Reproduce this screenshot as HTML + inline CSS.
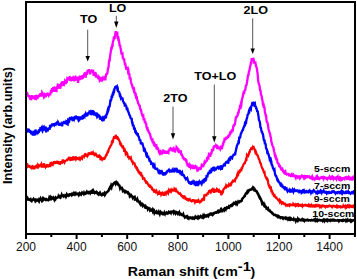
<!DOCTYPE html>
<html><head><meta charset="utf-8"><style>
html,body{margin:0;padding:0;background:#fff;width:357px;height:279px;overflow:hidden}
svg{display:block}
text{font-family:"Liberation Sans",sans-serif}
.tk{font-size:12px;fill:#111}
.an{font-size:10.2px;font-weight:bold;fill:#000}
.lg{font-size:9px;font-weight:bold;fill:#000}
.ax{font-size:12px;font-weight:bold;fill:#000}
</style></head><body>
<svg width="357" height="279" viewBox="0 0 357 279">
<polyline fill="none" stroke="#000000" stroke-width="2.5" stroke-linejoin="miter" stroke-miterlimit="3" points="27.0,200.6 27.0,199.8 27.3,199.7 27.7,198.6 28.1,199.5 28.5,199.5 28.9,199.7 29.3,199.5 29.7,199.8 30.1,199.6 30.5,199.2 30.9,200.4 31.3,200.4 31.7,200.9 32.1,200.0 32.5,199.8 32.9,199.7 33.3,199.2 33.7,200.6 34.1,199.5 34.5,199.5 34.9,200.0 35.3,201.0 35.7,200.3 36.1,199.6 36.5,199.8 36.9,200.5 37.3,200.1 37.7,199.8 38.1,200.0 38.5,200.6 38.9,201.2 39.3,199.4 39.7,199.7 40.1,199.6 40.5,198.6 40.9,199.4 41.3,199.3 41.7,200.4 42.1,199.7 42.5,198.9 42.9,200.1 43.3,199.5 43.7,198.7 44.1,199.3 44.5,199.2 44.9,199.1 45.3,199.5 45.7,198.2 46.1,199.3 46.5,199.9 46.9,199.8 47.3,199.9 47.7,199.8 48.1,200.0 48.5,198.5 48.9,199.5 49.3,197.9 49.7,198.6 50.1,197.8 50.5,199.3 50.9,199.4 51.3,198.5 51.7,199.5 52.1,198.1 52.5,198.5 52.9,198.4 53.3,197.7 53.7,198.4 54.1,199.2 54.5,197.4 54.9,198.4 55.3,197.8 55.7,198.7 56.1,197.9 56.5,198.0 56.9,197.9 57.3,197.6 57.7,196.6 58.1,198.1 58.5,196.5 58.9,197.3 59.3,197.4 59.7,196.6 60.1,197.1 60.5,197.5 60.9,196.8 61.3,196.2 61.7,195.0 62.1,196.0 62.5,196.1 62.9,196.1 63.3,195.7 63.7,196.3 64.1,195.7 64.5,195.8 64.9,196.1 65.3,195.2 65.7,195.4 66.1,196.6 66.5,195.8 66.9,194.5 67.3,195.1 67.7,195.3 68.1,195.6 68.5,195.0 68.9,194.5 69.3,194.4 69.7,195.1 70.1,194.8 70.5,194.3 70.9,194.5 71.3,194.3 71.7,194.9 72.1,194.1 72.5,194.7 72.9,194.8 73.3,194.6 73.7,193.8 74.1,195.0 74.5,193.8 74.9,194.4 75.3,193.7 75.7,193.2 76.1,194.2 76.5,194.2 76.9,194.0 77.3,194.1 77.7,193.6 78.1,193.5 78.5,193.8 78.9,194.9 79.3,194.2 79.7,193.4 80.1,194.0 80.5,193.4 80.9,193.4 81.3,194.1 81.7,193.3 82.1,192.6 82.5,193.0 82.9,193.5 83.3,193.5 83.7,194.0 84.1,192.9 84.5,193.7 84.9,193.5 85.3,193.1 85.7,193.6 86.1,193.4 86.5,192.6 86.9,193.6 87.3,192.3 87.7,192.9 88.1,192.8 88.5,193.0 88.9,192.3 89.3,192.6 89.7,192.4 90.1,193.0 90.5,191.9 90.9,192.3 91.3,192.1 91.7,191.5 92.1,193.7 92.5,192.2 92.9,191.4 93.3,193.0 93.7,191.7 94.1,192.5 94.5,192.9 94.9,192.1 95.3,192.3 95.7,192.3 96.1,192.6 96.5,191.9 96.9,192.2 97.3,192.9 97.7,193.6 98.1,193.5 98.5,194.3 98.9,193.9 99.3,193.4 99.7,193.9 100.1,193.0 100.5,193.8 100.9,194.0 101.3,194.8 101.7,195.1 102.1,194.5 102.5,194.4 102.9,193.8 103.3,194.5 103.7,194.6 104.1,194.5 104.5,193.6 104.9,194.8 105.3,194.1 105.7,193.1 106.1,192.6 106.5,192.4 106.9,192.3 107.3,191.8 107.7,191.5 108.1,191.1 108.5,190.7 108.9,189.9 109.3,188.6 109.7,188.2 110.1,187.2 110.5,186.6 110.9,187.4 111.3,185.6 111.7,186.4 112.1,184.7 112.5,184.6 112.9,184.7 113.3,183.8 113.7,183.6 114.1,183.0 114.5,182.6 114.9,182.7 115.3,182.5 115.7,183.6 116.1,182.7 116.5,183.7 116.9,181.5 117.3,183.2 117.7,183.9 118.1,183.9 118.5,185.1 118.9,185.3 119.3,185.4 119.7,186.3 120.1,188.1 120.5,187.3 120.9,187.8 121.3,187.9 121.7,188.5 122.1,188.2 122.5,189.1 122.9,190.7 123.3,190.3 123.7,190.4 124.1,190.9 124.5,191.6 124.9,191.3 125.3,192.3 125.7,192.0 126.1,191.8 126.5,192.9 126.9,191.1 127.3,192.3 127.7,193.0 128.1,192.7 128.5,193.4 128.9,193.4 129.3,193.7 129.7,195.6 130.1,194.9 130.5,194.9 130.9,195.8 131.3,195.4 131.7,196.2 132.1,196.3 132.5,197.2 132.9,196.0 133.3,197.4 133.7,197.3 134.1,197.1 134.5,198.4 134.9,197.8 135.3,199.3 135.7,199.1 136.1,199.5 136.5,199.6 136.9,200.3 137.3,199.4 137.7,200.7 138.1,200.7 138.5,201.5 138.9,201.7 139.3,202.4 139.7,202.1 140.1,203.7 140.5,204.3 140.9,203.4 141.3,203.9 141.7,204.3 142.1,205.1 142.5,205.7 142.9,204.6 143.3,205.1 143.7,205.2 144.1,205.4 144.5,205.5 144.9,206.6 145.3,206.2 145.7,207.7 146.1,207.7 146.5,207.0 146.9,207.2 147.3,207.7 147.7,208.9 148.1,208.0 148.5,208.0 148.9,208.9 149.3,209.3 149.7,209.0 150.1,210.3 150.5,209.9 150.9,210.3 151.3,209.9 151.7,210.5 152.1,210.7 152.5,209.9 152.9,211.3 153.3,210.6 153.7,211.6 154.1,211.1 154.5,212.9 154.9,212.2 155.3,212.6 155.7,212.7 156.1,211.8 156.5,211.4 156.9,212.4 157.3,213.0 157.7,212.7 158.1,213.1 158.5,213.3 158.9,212.2 159.3,213.1 159.7,214.0 160.1,212.8 160.5,212.2 160.9,213.1 161.3,213.1 161.7,213.5 162.1,213.0 162.5,213.5 162.9,212.4 163.3,213.9 163.7,214.2 164.1,214.1 164.5,212.8 164.9,213.6 165.3,212.1 165.7,213.5 166.1,213.3 166.5,212.8 166.9,213.3 167.3,213.1 167.7,213.4 168.1,212.9 168.5,212.9 168.9,211.8 169.3,212.0 169.7,212.2 170.1,212.5 170.5,212.3 170.9,212.9 171.3,211.7 171.7,211.9 172.1,212.1 172.5,211.8 172.9,212.1 173.3,211.6 173.7,212.6 174.1,211.8 174.5,212.5 174.9,212.1 175.3,212.9 175.7,211.6 176.1,212.6 176.5,212.3 176.9,212.8 177.3,213.4 177.7,212.4 178.1,212.5 178.5,212.8 178.9,213.5 179.3,212.6 179.7,213.8 180.1,213.3 180.5,213.6 180.9,214.2 181.3,214.7 181.7,214.5 182.1,214.8 182.5,215.3 182.9,215.4 183.3,214.5 183.7,215.7 184.1,216.2 184.5,216.9 184.9,217.5 185.3,217.0 185.7,216.8 186.1,216.4 186.5,217.0 186.9,217.4 187.3,217.8 187.7,216.9 188.1,217.5 188.5,217.8 188.9,218.4 189.3,217.7 189.7,217.4 190.1,217.4 190.5,217.6 190.9,217.6 191.3,218.3 191.7,218.4 192.1,218.3 192.5,218.5 192.9,217.8 193.3,218.2 193.7,217.8 194.1,218.0 194.5,218.5 194.9,217.9 195.3,217.0 195.7,217.7 196.1,217.5 196.5,217.1 196.9,217.4 197.3,218.1 197.7,218.4 198.1,217.3 198.5,218.0 198.9,218.0 199.3,216.9 199.7,217.3 200.1,217.3 200.5,217.3 200.9,216.4 201.3,216.9 201.7,217.4 202.1,217.4 202.5,217.6 202.9,216.4 203.3,217.3 203.7,216.7 204.1,215.6 204.5,216.5 204.9,215.9 205.3,216.2 205.7,215.8 206.1,216.3 206.5,215.8 206.9,215.4 207.3,215.9 207.7,215.5 208.1,215.1 208.5,215.8 208.9,214.9 209.3,214.7 209.7,214.6 210.1,214.1 210.5,214.4 210.9,215.4 211.3,214.0 211.7,214.3 212.1,213.6 212.5,213.7 212.9,214.6 213.3,214.1 213.7,213.3 214.1,213.4 214.5,212.9 214.9,212.7 215.3,212.5 215.7,212.4 216.1,212.8 216.5,212.8 216.9,212.6 217.3,212.1 217.7,211.4 218.1,211.8 218.5,211.3 218.9,212.0 219.3,211.7 219.7,211.6 220.1,210.9 220.5,210.1 220.9,211.2 221.3,211.2 221.7,209.8 222.1,210.4 222.5,210.7 222.9,209.5 223.3,210.7 223.7,209.5 224.1,209.0 224.5,210.0 224.9,209.3 225.3,208.7 225.7,209.2 226.1,207.7 226.5,209.2 226.9,207.8 227.3,208.1 227.7,207.6 228.1,207.8 228.5,207.7 228.9,206.7 229.3,207.2 229.7,206.4 230.1,205.9 230.5,205.8 230.9,205.2 231.3,205.0 231.7,205.5 232.1,204.8 232.5,205.1 232.9,204.5 233.3,203.6 233.7,203.0 234.1,203.3 234.5,203.6 234.9,203.3 235.3,202.8 235.7,203.5 236.1,202.1 236.5,202.2 236.9,202.7 237.3,203.6 237.7,202.6 238.1,201.8 238.5,202.4 238.9,202.3 239.3,202.3 239.7,201.5 240.1,201.1 240.5,201.2 240.9,201.0 241.3,201.1 241.7,200.8 242.1,199.0 242.5,198.5 242.9,198.1 243.3,197.5 243.7,197.2 244.1,196.6 244.5,195.9 244.9,195.9 245.3,194.7 245.7,193.9 246.1,193.2 246.5,193.0 246.9,192.6 247.3,191.7 247.7,192.5 248.1,191.9 248.5,191.2 248.9,190.6 249.3,189.9 249.7,189.9 250.1,190.9 250.5,188.7 250.9,189.5 251.3,189.4 251.7,188.9 252.1,188.5 252.5,188.8 252.9,187.9 253.3,188.7 253.7,189.3 254.1,188.4 254.5,188.9 254.9,189.7 255.3,190.5 255.7,191.1 256.1,191.3 256.5,191.2 256.9,191.6 257.3,192.9 257.7,193.7 258.1,193.8 258.5,195.1 258.9,196.0 259.3,197.1 259.7,197.0 260.1,198.4 260.5,198.4 260.9,199.4 261.3,200.3 261.7,201.7 262.1,203.2 262.5,202.6 262.9,203.3 263.3,204.1 263.7,203.7 264.1,205.1 264.5,204.8 264.9,206.5 265.3,206.9 265.7,207.0 266.1,206.9 266.5,208.4 266.9,208.2 267.3,208.6 267.7,209.2 268.1,208.7 268.5,209.9 268.9,210.5 269.3,210.6 269.7,210.9 270.1,210.8 270.5,211.8 270.9,211.9 271.3,212.2 271.7,212.3 272.1,213.2 272.5,213.6 272.9,213.6 273.3,214.1 273.7,214.5 274.1,214.9 274.5,214.6 274.9,214.7 275.3,214.9 275.7,215.3 276.1,215.6 276.5,216.0 276.9,215.7 277.3,216.1 277.7,215.9 278.1,216.8 278.5,216.4 278.9,216.9 279.3,216.6 279.7,216.9 280.1,217.0 280.5,217.9 280.9,217.6 281.3,217.5 281.7,217.4 282.1,217.6 282.5,218.1 282.9,218.5 283.3,217.6 283.7,217.8 284.1,218.1 284.5,218.0 284.9,217.8 285.3,218.4 285.7,218.7 286.1,218.0 286.5,218.6 286.9,218.9 287.3,218.9 287.7,218.5 288.1,219.4 288.5,218.9 288.9,218.5 289.3,219.1 289.7,218.5 290.1,219.2 290.5,218.6 290.9,219.3 291.3,218.9 291.7,219.5 292.1,219.4 292.5,219.4 292.9,219.3 293.3,219.7 293.7,218.9 294.1,219.6 294.5,219.6 294.9,219.7 295.3,219.9 295.7,220.8 296.1,219.7 296.5,220.0 296.9,219.8 297.3,220.3 297.7,219.3 298.1,220.4 298.5,219.7 298.9,219.3 299.3,219.7 299.7,219.9 300.1,220.1 300.5,220.0 300.9,220.3 301.3,220.0 301.7,220.0 302.1,219.4 302.5,220.2 302.9,220.4 303.3,219.9 303.7,219.5 304.1,219.7 304.5,220.6 304.9,219.9 305.3,219.9 305.7,219.9 306.1,220.3 306.5,219.9 306.9,219.9 307.3,219.7 307.7,220.1 308.1,220.4 308.5,220.1 308.9,220.4 309.3,220.2 309.7,220.2 310.1,220.2 310.5,220.2 310.9,220.5 311.3,220.3 311.7,220.0 312.1,220.2 312.5,220.2 312.9,220.4 313.3,220.3 313.7,220.3 314.1,219.8 314.5,220.3 314.9,220.6 315.3,219.8 315.7,220.7 316.1,220.3 316.5,220.2 316.9,219.7 317.3,220.6 317.7,220.0 318.1,220.1 318.5,220.4 318.9,220.0 319.3,220.0 319.7,219.9 320.1,220.2 320.5,220.5 320.9,220.4 321.3,220.4 321.7,220.2 322.1,220.3 322.5,220.1 322.9,220.9 323.3,220.4 323.7,219.7 324.1,220.0 324.5,220.8 324.9,219.9 325.3,220.2 325.7,220.4 326.1,220.0 326.5,220.6 326.9,220.8 327.3,220.1 327.7,220.7 328.1,220.1 328.5,220.0 328.9,220.4 329.3,220.4 329.7,220.2 330.1,220.6 330.5,219.9 330.9,220.1 331.3,220.0 331.7,220.6 332.1,220.6 332.5,220.6 332.9,220.0 333.3,220.4 333.7,220.5 334.1,219.9 334.5,220.1 334.9,220.6 335.3,220.6 335.7,220.5 336.1,220.5 336.5,220.5 336.9,220.4 337.3,220.4 337.7,220.1 338.1,220.3 338.5,220.3 338.9,221.1 339.3,220.5 339.7,220.4 340.1,220.3 340.5,220.4 340.9,220.3 341.3,220.6 341.7,220.4 342.1,220.7 342.5,220.2 342.9,220.5 343.3,220.7 343.7,220.1 344.1,220.5 344.5,220.5 344.9,220.3 345.3,220.3 345.7,219.9 346.1,220.8 346.5,220.2 346.9,220.1 347.3,220.6 347.7,219.9 348.1,220.7 348.5,220.6 348.9,220.6 349.3,220.4 349.7,220.1 350.1,219.9 350.5,220.9 350.9,220.3 351.3,220.3 351.7,221.0 352.1,220.3 352.5,220.4 352.9,220.4 353.3,220.5 353.7,220.2 354.0,220.3 354.0,220.9"/><polyline fill="none" stroke="#ff0000" stroke-width="2.2" stroke-linejoin="miter" stroke-miterlimit="3" points="27.0,166.7 27.0,163.2 27.3,164.2 27.7,166.5 28.1,166.1 28.5,166.0 28.9,167.4 29.3,164.8 29.7,167.7 30.1,166.8 30.5,167.3 30.9,167.1 31.3,167.7 31.7,166.7 32.1,166.4 32.5,167.6 32.9,167.1 33.3,165.7 33.7,168.2 34.1,168.1 34.5,168.3 34.9,167.0 35.3,167.2 35.7,166.5 36.1,166.0 36.5,167.0 36.9,167.1 37.3,166.3 37.7,168.5 38.1,165.1 38.5,165.7 38.9,165.6 39.3,167.3 39.7,165.6 40.1,165.3 40.5,164.6 40.9,164.5 41.3,163.9 41.7,166.0 42.1,165.6 42.5,166.0 42.9,164.5 43.3,167.6 43.7,164.3 44.1,163.4 44.5,165.2 44.9,165.7 45.3,166.5 45.7,164.9 46.1,166.5 46.5,167.6 46.9,165.2 47.3,165.3 47.7,164.3 48.1,165.9 48.5,166.3 48.9,166.0 49.3,165.8 49.7,166.0 50.1,164.5 50.5,165.0 50.9,162.9 51.3,162.8 51.7,163.6 52.1,162.5 52.5,163.7 52.9,164.4 53.3,163.3 53.7,162.2 54.1,162.1 54.5,164.0 54.9,161.8 55.3,162.6 55.7,162.2 56.1,162.5 56.5,163.5 56.9,161.9 57.3,161.1 57.7,163.8 58.1,162.6 58.5,163.1 58.9,162.5 59.3,163.2 59.7,163.7 60.1,163.8 60.5,162.2 60.9,162.1 61.3,162.7 61.7,162.4 62.1,162.6 62.5,161.3 62.9,159.5 63.3,162.0 63.7,162.1 64.1,161.8 64.5,162.5 64.9,161.5 65.3,160.1 65.7,161.2 66.1,160.0 66.5,161.1 66.9,159.9 67.3,160.0 67.7,159.6 68.1,159.3 68.5,157.7 68.9,159.1 69.3,156.8 69.7,159.4 70.1,159.8 70.5,160.7 70.9,159.1 71.3,158.0 71.7,157.1 72.1,160.5 72.5,157.2 72.9,159.4 73.3,156.3 73.7,158.4 74.1,159.1 74.5,158.7 74.9,158.3 75.3,157.6 75.7,157.4 76.1,159.2 76.5,158.6 76.9,158.0 77.3,158.3 77.7,157.2 78.1,158.9 78.5,159.1 78.9,157.0 79.3,157.8 79.7,158.5 80.1,156.8 80.5,159.2 80.9,158.6 81.3,156.7 81.7,157.7 82.1,158.2 82.5,155.3 82.9,156.9 83.3,156.0 83.7,155.8 84.1,156.5 84.5,155.3 84.9,154.2 85.3,154.1 85.7,155.3 86.1,155.7 86.5,155.0 86.9,154.7 87.3,154.6 87.7,155.7 88.1,154.9 88.5,153.5 88.9,153.8 89.3,155.1 89.7,153.3 90.1,153.4 90.5,153.6 90.9,152.6 91.3,154.5 91.7,151.5 92.1,155.0 92.5,153.3 92.9,152.6 93.3,154.2 93.7,152.4 94.1,154.7 94.5,155.1 94.9,154.0 95.3,154.3 95.7,155.8 96.1,154.4 96.5,155.2 96.9,155.7 97.3,157.1 97.7,155.4 98.1,156.3 98.5,157.7 98.9,154.6 99.3,157.1 99.7,155.9 100.1,156.3 100.5,160.2 100.9,158.8 101.3,160.2 101.7,158.7 102.1,159.5 102.5,158.6 102.9,158.4 103.3,158.7 103.7,158.7 104.1,159.9 104.5,157.9 104.9,158.0 105.3,156.9 105.7,156.6 106.1,154.5 106.5,155.9 106.9,153.5 107.3,153.0 107.7,151.8 108.1,152.0 108.5,150.6 108.9,149.1 109.3,148.3 109.7,147.5 110.1,147.0 110.5,145.8 110.9,145.6 111.3,145.0 111.7,143.2 112.1,140.5 112.5,142.5 112.9,142.1 113.3,139.1 113.7,138.4 114.1,136.3 114.5,138.5 114.9,136.6 115.3,138.9 115.7,134.8 116.1,137.1 116.5,137.7 116.9,137.0 117.3,137.0 117.7,138.4 118.1,138.2 118.5,139.0 118.9,140.0 119.3,140.5 119.7,141.8 120.1,143.6 120.5,143.3 120.9,144.6 121.3,144.5 121.7,146.7 122.1,145.5 122.5,148.2 122.9,145.5 123.3,148.0 123.7,148.1 124.1,151.0 124.5,151.0 124.9,150.3 125.3,151.5 125.7,153.8 126.1,153.2 126.5,154.3 126.9,153.1 127.3,153.7 127.7,155.9 128.1,157.9 128.5,156.0 128.9,157.5 129.3,156.7 129.7,159.1 130.1,158.1 130.5,158.7 130.9,158.0 131.3,159.7 131.7,160.7 132.1,162.3 132.5,160.7 132.9,163.1 133.3,162.6 133.7,163.3 134.1,163.4 134.5,163.4 134.9,164.5 135.3,167.4 135.7,165.8 136.1,167.1 136.5,169.0 136.9,167.0 137.3,169.7 137.7,169.6 138.1,170.8 138.5,171.9 138.9,171.6 139.3,172.2 139.7,173.5 140.1,174.0 140.5,173.4 140.9,174.4 141.3,174.0 141.7,176.6 142.1,175.1 142.5,176.8 142.9,178.6 143.3,178.4 143.7,178.0 144.1,178.2 144.5,178.8 144.9,180.6 145.3,180.7 145.7,180.9 146.1,183.6 146.5,181.4 146.9,182.2 147.3,182.8 147.7,183.9 148.1,184.5 148.5,184.5 148.9,185.8 149.3,186.2 149.7,186.0 150.1,184.7 150.5,187.8 150.9,186.9 151.3,187.6 151.7,188.5 152.1,188.1 152.5,188.9 152.9,190.0 153.3,190.1 153.7,191.0 154.1,190.4 154.5,191.2 154.9,190.8 155.3,191.7 155.7,192.3 156.1,192.0 156.5,191.2 156.9,192.4 157.3,192.8 157.7,193.7 158.1,192.9 158.5,192.7 158.9,192.2 159.3,194.9 159.7,192.6 160.1,192.6 160.5,193.4 160.9,192.1 161.3,194.5 161.7,193.9 162.1,194.1 162.5,192.9 162.9,193.3 163.3,194.4 163.7,194.3 164.1,195.8 164.5,194.2 164.9,191.7 165.3,193.1 165.7,192.6 166.1,193.6 166.5,192.4 166.9,192.7 167.3,191.9 167.7,192.5 168.1,193.1 168.5,191.2 168.9,189.9 169.3,190.6 169.7,192.5 170.1,191.2 170.5,190.6 170.9,189.9 171.3,191.4 171.7,190.7 172.1,190.2 172.5,189.8 172.9,190.1 173.3,189.9 173.7,190.6 174.1,191.3 174.5,188.8 174.9,189.3 175.3,190.6 175.7,191.0 176.1,189.9 176.5,190.9 176.9,191.3 177.3,191.6 177.7,191.8 178.1,192.4 178.5,193.4 178.9,193.6 179.3,193.8 179.7,193.8 180.1,193.4 180.5,193.9 180.9,195.2 181.3,195.2 181.7,196.1 182.1,196.0 182.5,196.2 182.9,196.9 183.3,195.6 183.7,197.0 184.1,196.9 184.5,198.4 184.9,197.4 185.3,198.4 185.7,198.1 186.1,199.0 186.5,199.4 186.9,198.9 187.3,199.3 187.7,199.6 188.1,200.2 188.5,199.5 188.9,199.9 189.3,199.7 189.7,199.3 190.1,200.4 190.5,200.6 190.9,199.7 191.3,201.7 191.7,199.9 192.1,201.2 192.5,200.9 192.9,199.3 193.3,200.7 193.7,199.5 194.1,200.8 194.5,201.4 194.9,202.4 195.3,201.6 195.7,199.8 196.1,200.8 196.5,202.4 196.9,201.4 197.3,202.7 197.7,200.7 198.1,200.9 198.5,200.3 198.9,201.1 199.3,202.4 199.7,200.7 200.1,202.1 200.5,201.6 200.9,201.6 201.3,200.3 201.7,200.0 202.1,201.3 202.5,198.1 202.9,199.3 203.3,199.4 203.7,198.1 204.1,198.6 204.5,194.4 204.9,196.1 205.3,195.0 205.7,195.2 206.1,195.1 206.5,195.2 206.9,193.8 207.3,194.8 207.7,192.5 208.1,194.1 208.5,192.8 208.9,191.2 209.3,190.9 209.7,190.6 210.1,191.0 210.5,191.6 210.9,192.3 211.3,191.7 211.7,189.8 212.1,188.9 212.5,190.5 212.9,189.6 213.3,190.6 213.7,190.1 214.1,192.8 214.5,189.3 214.9,191.0 215.3,192.2 215.7,190.4 216.1,190.1 216.5,192.0 216.9,189.0 217.3,189.3 217.7,189.7 218.1,191.0 218.5,191.3 218.9,190.7 219.3,192.7 219.7,191.0 220.1,191.4 220.5,191.4 220.9,192.9 221.3,192.1 221.7,191.9 222.1,193.5 222.5,192.9 222.9,192.2 223.3,189.7 223.7,189.0 224.1,188.9 224.5,188.1 224.9,187.3 225.3,186.9 225.7,187.3 226.1,185.7 226.5,186.5 226.9,185.8 227.3,185.5 227.7,185.5 228.1,186.2 228.5,185.7 228.9,184.6 229.3,185.4 229.7,185.0 230.1,185.0 230.5,184.3 230.9,185.0 231.3,184.2 231.7,182.5 232.1,182.0 232.5,181.4 232.9,182.4 233.3,181.0 233.7,180.7 234.1,180.4 234.5,180.8 234.9,181.0 235.3,178.5 235.7,179.6 236.1,177.9 236.5,177.8 236.9,176.0 237.3,174.6 237.7,175.4 238.1,175.4 238.5,172.4 238.9,173.0 239.3,172.5 239.7,172.1 240.1,170.1 240.5,169.8 240.9,170.3 241.3,170.3 241.7,168.2 242.1,168.2 242.5,166.8 242.9,166.3 243.3,164.9 243.7,164.3 244.1,163.3 244.5,163.1 244.9,163.1 245.3,161.5 245.7,161.1 246.1,159.2 246.5,159.4 246.9,155.4 247.3,156.0 247.7,156.0 248.1,153.9 248.5,155.0 248.9,153.9 249.3,152.1 249.7,152.1 250.1,150.0 250.5,149.8 250.9,149.4 251.3,147.6 251.7,149.0 252.1,147.0 252.5,147.9 252.9,146.9 253.3,147.5 253.7,147.2 254.1,148.4 254.5,149.2 254.9,150.5 255.3,152.1 255.7,151.3 256.1,152.4 256.5,153.6 256.9,154.8 257.3,154.9 257.7,155.6 258.1,156.4 258.5,157.9 258.9,159.1 259.3,159.5 259.7,160.9 260.1,162.7 260.5,163.2 260.9,163.8 261.3,165.8 261.7,166.8 262.1,167.8 262.5,168.8 262.9,169.1 263.3,170.6 263.7,171.7 264.1,172.5 264.5,172.2 264.9,174.5 265.3,175.8 265.7,176.9 266.1,177.4 266.5,178.6 266.9,178.4 267.3,179.6 267.7,179.6 268.1,182.5 268.5,184.6 268.9,185.6 269.3,184.6 269.7,186.7 270.1,188.0 270.5,187.8 270.9,187.6 271.3,190.7 271.7,190.4 272.1,191.1 272.5,193.3 272.9,193.2 273.3,194.1 273.7,195.3 274.1,194.8 274.5,194.8 274.9,196.5 275.3,196.6 275.7,197.6 276.1,197.9 276.5,197.7 276.9,198.6 277.3,198.9 277.7,199.4 278.1,199.9 278.5,200.5 278.9,200.8 279.3,200.2 279.7,201.6 280.1,200.7 280.5,203.1 280.9,201.6 281.3,202.3 281.7,203.3 282.1,202.7 282.5,202.3 282.9,202.4 283.3,203.5 283.7,203.8 284.1,204.2 284.5,204.0 284.9,203.7 285.3,204.3 285.7,205.0 286.1,203.8 286.5,206.3 286.9,204.2 287.3,205.2 287.7,205.6 288.1,205.2 288.5,204.9 288.9,205.2 289.3,205.6 289.7,203.5 290.1,205.2 290.5,204.8 290.9,204.7 291.3,205.1 291.7,205.2 292.1,205.3 292.5,204.8 292.9,205.7 293.3,204.0 293.7,204.6 294.1,204.5 294.5,205.2 294.9,204.9 295.3,205.5 295.7,204.8 296.1,205.9 296.5,205.6 296.9,204.9 297.3,204.3 297.7,204.6 298.1,204.4 298.5,205.9 298.9,205.7 299.3,204.6 299.7,206.3 300.1,205.1 300.5,204.1 300.9,205.9 301.3,206.0 301.7,205.4 302.1,204.9 302.5,206.0 302.9,205.1 303.3,205.4 303.7,205.7 304.1,205.6 304.5,205.2 304.9,204.9 305.3,205.9 305.7,204.4 306.1,205.7 306.5,205.7 306.9,205.8 307.3,205.4 307.7,205.7 308.1,206.0 308.5,205.1 308.9,205.7 309.3,205.9 309.7,205.0 310.1,205.2 310.5,206.5 310.9,206.3 311.3,205.3 311.7,206.1 312.1,206.0 312.5,206.5 312.9,206.4 313.3,204.5 313.7,205.7 314.1,206.6 314.5,206.7 314.9,205.5 315.3,205.2 315.7,206.0 316.1,205.6 316.5,205.9 316.9,205.3 317.3,206.3 317.7,206.2 318.1,206.2 318.5,205.4 318.9,205.1 319.3,205.3 319.7,206.3 320.1,205.1 320.5,206.4 320.9,206.9 321.3,205.7 321.7,205.9 322.1,206.6 322.5,206.5 322.9,205.7 323.3,206.0 323.7,206.1 324.1,205.9 324.5,206.4 324.9,206.3 325.3,206.8 325.7,205.2 326.1,206.7 326.5,206.6 326.9,206.1 327.3,206.4 327.7,206.7 328.1,206.3 328.5,206.0 328.9,206.3 329.3,205.8 329.7,205.5 330.1,205.7 330.5,205.8 330.9,206.3 331.3,206.6 331.7,206.3 332.1,207.0 332.5,206.2 332.9,205.9 333.3,205.9 333.7,205.8 334.1,206.1 334.5,207.0 334.9,205.5 335.3,206.6 335.7,206.3 336.1,206.7 336.5,206.0 336.9,206.7 337.3,206.0 337.7,206.6 338.1,205.3 338.5,206.6 338.9,206.7 339.3,205.5 339.7,206.8 340.1,205.7 340.5,206.9 340.9,206.4 341.3,206.7 341.7,206.6 342.1,205.7 342.5,207.2 342.9,207.0 343.3,205.9 343.7,206.7 344.1,206.6 344.5,206.1 344.9,205.9 345.3,207.1 345.7,206.2 346.1,206.9 346.5,207.4 346.9,206.7 347.3,206.0 347.7,207.0 348.1,205.7 348.5,206.0 348.9,208.0 349.3,206.1 349.7,206.7 350.1,205.9 350.5,206.4 350.9,206.6 351.3,205.1 351.7,206.2 352.1,206.9 352.5,207.0 352.9,206.7 353.3,206.0 353.7,206.7 354.0,206.3 354.0,206.1"/><polyline fill="none" stroke="#0000ff" stroke-width="2.3" stroke-linejoin="miter" stroke-miterlimit="3" points="27.0,129.5 27.0,132.6 27.3,128.5 27.7,131.5 28.1,130.8 28.5,128.8 28.9,129.9 29.3,131.3 29.7,131.3 30.1,132.6 30.5,131.2 30.9,131.4 31.3,134.3 31.7,133.0 32.1,131.9 32.5,133.1 32.9,135.5 33.3,132.2 33.7,130.9 34.1,134.1 34.5,135.4 34.9,134.4 35.3,130.8 35.7,129.7 36.1,134.0 36.5,132.0 36.9,132.8 37.3,131.7 37.7,134.0 38.1,131.6 38.5,130.9 38.9,131.2 39.3,129.1 39.7,130.6 40.1,130.0 40.5,127.1 40.9,128.2 41.3,127.9 41.7,127.3 42.1,129.9 42.5,130.9 42.9,129.9 43.3,127.4 43.7,127.0 44.1,130.5 44.5,129.0 44.9,129.3 45.3,127.7 45.7,126.7 46.1,132.4 46.5,128.6 46.9,129.1 47.3,127.8 47.7,131.3 48.1,128.6 48.5,128.5 48.9,128.5 49.3,128.1 49.7,129.6 50.1,124.8 50.5,127.8 50.9,125.7 51.3,125.7 51.7,125.1 52.1,126.3 52.5,123.8 52.9,124.6 53.3,125.9 53.7,124.1 54.1,124.1 54.5,125.1 54.9,124.5 55.3,123.8 55.7,124.2 56.1,122.8 56.5,125.1 56.9,122.5 57.3,121.8 57.7,124.6 58.1,122.4 58.5,123.1 58.9,124.2 59.3,125.6 59.7,124.1 60.1,124.1 60.5,124.1 60.9,125.2 61.3,123.9 61.7,124.8 62.1,126.2 62.5,123.9 62.9,123.5 63.3,122.6 63.7,122.7 64.1,121.8 64.5,121.8 64.9,122.4 65.3,123.4 65.7,123.4 66.1,121.9 66.5,122.6 66.9,120.1 67.3,124.2 67.7,124.4 68.1,120.5 68.5,121.0 68.9,120.1 69.3,120.7 69.7,118.5 70.1,117.1 70.5,120.1 70.9,117.4 71.3,119.3 71.7,117.6 72.1,117.7 72.5,120.1 72.9,120.9 73.3,118.5 73.7,118.1 74.1,119.1 74.5,117.9 74.9,116.3 75.3,118.6 75.7,115.6 76.1,119.1 76.5,117.9 76.9,118.8 77.3,116.5 77.7,117.4 78.1,119.1 78.5,120.2 78.9,119.4 79.3,118.7 79.7,116.5 80.1,118.7 80.5,118.0 80.9,117.2 81.3,119.3 81.7,116.3 82.1,119.6 82.5,116.2 82.9,116.0 83.3,116.6 83.7,114.7 84.1,115.7 84.5,116.3 84.9,113.7 85.3,114.7 85.7,113.7 86.1,114.8 86.5,116.6 86.9,114.2 87.3,114.3 87.7,114.5 88.1,112.4 88.5,113.9 88.9,112.7 89.3,112.2 89.7,110.6 90.1,111.8 90.5,113.9 90.9,114.1 91.3,112.0 91.7,112.5 92.1,111.9 92.5,111.1 92.9,110.3 93.3,115.2 93.7,111.7 94.1,113.6 94.5,115.6 94.9,113.3 95.3,113.8 95.7,114.6 96.1,114.1 96.5,115.1 96.9,114.6 97.3,116.9 97.7,116.4 98.1,114.6 98.5,114.8 98.9,116.2 99.3,116.7 99.7,116.9 100.1,119.6 100.5,117.7 100.9,118.4 101.3,119.5 101.7,116.7 102.1,120.1 102.5,120.2 102.9,121.2 103.3,117.8 103.7,118.2 104.1,118.8 104.5,117.6 104.9,115.8 105.3,118.5 105.7,116.4 106.1,116.6 106.5,113.6 106.9,115.2 107.3,112.1 107.7,110.4 108.1,111.1 108.5,110.0 108.9,105.8 109.3,106.9 109.7,106.2 110.1,103.0 110.5,99.4 110.9,100.6 111.3,99.8 111.7,95.7 112.1,97.9 112.5,94.2 112.9,93.2 113.3,93.6 113.7,91.2 114.1,91.4 114.5,88.6 114.9,88.1 115.3,86.9 115.7,86.6 116.1,86.9 116.5,86.9 116.9,86.4 117.3,88.8 117.7,88.4 118.1,91.2 118.5,91.6 118.9,92.0 119.3,92.3 119.7,94.4 120.1,97.0 120.5,96.3 120.9,98.1 121.3,97.5 121.7,98.0 122.1,98.4 122.5,97.6 122.9,101.1 123.3,101.6 123.7,102.2 124.1,104.0 124.5,102.7 124.9,106.7 125.3,103.6 125.7,106.5 126.1,105.5 126.5,107.4 126.9,110.0 127.3,107.6 127.7,110.5 128.1,111.2 128.5,112.2 128.9,113.2 129.3,114.7 129.7,115.3 130.1,116.1 130.5,117.8 130.9,118.5 131.3,118.8 131.7,118.8 132.1,122.6 132.5,122.6 132.9,126.4 133.3,125.2 133.7,125.8 134.1,129.7 134.5,128.7 134.9,128.7 135.3,132.6 135.7,130.3 136.1,134.2 136.5,132.2 136.9,134.4 137.3,134.8 137.7,133.1 138.1,135.8 138.5,136.1 138.9,137.4 139.3,138.7 139.7,140.8 140.1,139.6 140.5,140.7 140.9,144.2 141.3,143.5 141.7,144.4 142.1,142.6 142.5,143.6 142.9,145.4 143.3,146.7 143.7,148.3 144.1,151.7 144.5,148.0 144.9,149.8 145.3,151.8 145.7,152.2 146.1,154.0 146.5,153.3 146.9,153.5 147.3,157.8 147.7,156.7 148.1,155.7 148.5,157.5 148.9,158.7 149.3,157.9 149.7,161.2 150.1,161.3 150.5,161.4 150.9,161.7 151.3,164.9 151.7,163.6 152.1,163.4 152.5,162.5 152.9,164.2 153.3,166.7 153.7,168.2 154.1,165.7 154.5,165.1 154.9,168.0 155.3,168.3 155.7,169.8 156.1,168.4 156.5,169.8 156.9,167.9 157.3,169.0 157.7,170.2 158.1,170.7 158.5,172.2 158.9,173.3 159.3,170.5 159.7,174.3 160.1,171.6 160.5,172.1 160.9,174.0 161.3,170.1 161.7,171.3 162.1,172.1 162.5,173.3 162.9,174.5 163.3,174.6 163.7,172.3 164.1,174.3 164.5,173.0 164.9,175.2 165.3,173.1 165.7,174.5 166.1,171.9 166.5,173.7 166.9,170.9 167.3,172.3 167.7,169.9 168.1,171.3 168.5,170.2 168.9,169.7 169.3,170.8 169.7,171.3 170.1,170.4 170.5,170.5 170.9,171.0 171.3,171.5 171.7,171.2 172.1,170.4 172.5,172.2 172.9,169.3 173.3,170.8 173.7,168.5 174.1,172.5 174.5,169.5 174.9,170.0 175.3,171.4 175.7,169.6 176.1,169.0 176.5,167.9 176.9,169.9 177.3,172.7 177.7,170.8 178.1,172.8 178.5,172.0 178.9,170.8 179.3,169.9 179.7,171.6 180.1,172.7 180.5,172.1 180.9,172.9 181.3,173.8 181.7,173.2 182.1,172.5 182.5,174.3 182.9,175.9 183.3,174.8 183.7,175.1 184.1,175.7 184.5,177.1 184.9,177.7 185.3,178.2 185.7,177.3 186.1,179.2 186.5,178.9 186.9,179.0 187.3,178.4 187.7,179.7 188.1,180.7 188.5,181.9 188.9,182.6 189.3,182.4 189.7,182.9 190.1,181.5 190.5,183.8 190.9,183.9 191.3,183.9 191.7,182.7 192.1,183.2 192.5,182.9 192.9,182.0 193.3,183.2 193.7,181.9 194.1,181.7 194.5,184.4 194.9,184.4 195.3,184.7 195.7,183.2 196.1,183.7 196.5,184.2 196.9,183.1 197.3,181.1 197.7,186.0 198.1,184.7 198.5,184.6 198.9,183.2 199.3,182.0 199.7,182.9 200.1,183.1 200.5,181.0 200.9,181.9 201.3,182.9 201.7,183.8 202.1,182.5 202.5,181.1 202.9,179.8 203.3,183.3 203.7,180.8 204.1,181.2 204.5,180.0 204.9,178.1 205.3,181.6 205.7,179.3 206.1,179.3 206.5,176.3 206.9,176.4 207.3,177.4 207.7,174.8 208.1,173.8 208.5,172.8 208.9,172.0 209.3,173.9 209.7,172.3 210.1,169.8 210.5,173.1 210.9,172.3 211.3,171.8 211.7,167.9 212.1,169.9 212.5,171.0 212.9,168.1 213.3,168.2 213.7,168.8 214.1,166.6 214.5,169.1 214.9,169.9 215.3,169.4 215.7,170.3 216.1,168.6 216.5,168.4 216.9,168.2 217.3,167.5 217.7,167.0 218.1,167.3 218.5,168.0 218.9,167.4 219.3,168.1 219.7,168.1 220.1,168.6 220.5,167.3 220.9,165.4 221.3,166.6 221.7,169.8 222.1,168.3 222.5,166.6 222.9,166.3 223.3,165.9 223.7,164.8 224.1,165.1 224.5,165.2 224.9,165.3 225.3,163.1 225.7,162.7 226.1,162.2 226.5,162.2 226.9,163.0 227.3,160.6 227.7,163.7 228.1,161.5 228.5,161.8 228.9,159.2 229.3,159.5 229.7,159.0 230.1,159.3 230.5,156.5 230.9,159.0 231.3,156.0 231.7,157.9 232.1,158.2 232.5,156.5 232.9,155.8 233.3,155.3 233.7,154.6 234.1,154.5 234.5,154.6 234.9,153.6 235.3,153.8 235.7,151.2 236.1,149.4 236.5,148.1 236.9,145.8 237.3,145.3 237.7,143.5 238.1,144.7 238.5,141.8 238.9,142.0 239.3,136.5 239.7,137.8 240.1,137.5 240.5,135.5 240.9,133.5 241.3,133.1 241.7,132.0 242.1,131.0 242.5,130.2 242.9,130.1 243.3,128.3 243.7,127.5 244.1,126.3 244.5,125.9 244.9,123.6 245.3,124.1 245.7,122.1 246.1,122.3 246.5,119.4 246.9,118.5 247.3,116.8 247.7,114.3 248.1,115.1 248.5,112.9 248.9,111.3 249.3,111.6 249.7,108.7 250.1,108.1 250.5,108.5 250.9,109.1 251.3,105.6 251.7,106.3 252.1,103.7 252.5,101.9 252.9,103.0 253.3,104.0 253.7,103.4 254.1,104.5 254.5,103.8 254.9,103.4 255.3,107.0 255.7,105.9 256.1,108.2 256.5,108.4 256.9,110.2 257.3,112.1 257.7,110.7 258.1,114.1 258.5,116.1 258.9,119.8 259.3,120.6 259.7,121.6 260.1,123.8 260.5,128.2 260.9,127.3 261.3,130.0 261.7,131.8 262.1,131.9 262.5,133.7 262.9,134.0 263.3,136.5 263.7,139.5 264.1,140.4 264.5,139.7 264.9,144.4 265.3,143.0 265.7,144.7 266.1,148.6 266.5,148.8 266.9,149.6 267.3,152.4 267.7,152.1 268.1,153.8 268.5,154.2 268.9,155.9 269.3,157.1 269.7,159.4 270.1,159.0 270.5,160.6 270.9,159.9 271.3,161.5 271.7,164.8 272.1,164.9 272.5,166.1 272.9,168.0 273.3,168.2 273.7,169.7 274.1,170.4 274.5,169.9 274.9,173.3 275.3,175.1 275.7,175.8 276.1,175.8 276.5,176.9 276.9,178.1 277.3,180.0 277.7,180.7 278.1,180.3 278.5,181.4 278.9,182.1 279.3,182.4 279.7,183.0 280.1,183.9 280.5,182.5 280.9,185.3 281.3,185.1 281.7,184.9 282.1,186.1 282.5,186.0 282.9,188.0 283.3,186.4 283.7,187.7 284.1,188.2 284.5,187.5 284.9,187.4 285.3,188.9 285.7,188.5 286.1,188.3 286.5,188.2 286.9,190.0 287.3,190.8 287.7,189.5 288.1,190.5 288.5,191.0 288.9,191.1 289.3,190.1 289.7,191.0 290.1,191.2 290.5,192.6 290.9,190.9 291.3,191.5 291.7,191.3 292.1,191.2 292.5,189.9 292.9,190.8 293.3,191.7 293.7,190.3 294.1,190.7 294.5,189.9 294.9,190.7 295.3,190.8 295.7,191.0 296.1,190.3 296.5,190.3 296.9,190.2 297.3,190.8 297.7,190.8 298.1,192.3 298.5,190.3 298.9,191.3 299.3,190.5 299.7,190.6 300.1,191.7 300.5,191.3 300.9,191.4 301.3,190.1 301.7,193.0 302.1,192.7 302.5,190.7 302.9,190.3 303.3,190.8 303.7,191.5 304.1,190.7 304.5,191.6 304.9,190.9 305.3,193.4 305.7,191.3 306.1,191.1 306.5,192.9 306.9,191.7 307.3,191.5 307.7,191.5 308.1,192.0 308.5,191.3 308.9,191.7 309.3,191.2 309.7,190.6 310.1,191.4 310.5,191.8 310.9,192.8 311.3,191.8 311.7,191.5 312.1,191.8 312.5,192.2 312.9,190.1 313.3,191.5 313.7,190.2 314.1,190.5 314.5,191.3 314.9,191.7 315.3,191.9 315.7,191.9 316.1,192.8 316.5,192.2 316.9,192.2 317.3,191.7 317.7,193.3 318.1,192.9 318.5,191.5 318.9,191.5 319.3,192.5 319.7,192.7 320.1,191.8 320.5,192.8 320.9,191.2 321.3,191.9 321.7,192.8 322.1,191.7 322.5,192.2 322.9,192.1 323.3,191.9 323.7,190.8 324.1,191.9 324.5,192.3 324.9,192.3 325.3,192.7 325.7,192.8 326.1,191.9 326.5,192.0 326.9,193.4 327.3,192.9 327.7,192.2 328.1,192.1 328.5,193.0 328.9,193.0 329.3,192.2 329.7,192.6 330.1,192.3 330.5,192.3 330.9,193.7 331.3,191.4 331.7,192.9 332.1,191.6 332.5,191.8 332.9,193.0 333.3,191.4 333.7,191.7 334.1,191.5 334.5,191.9 334.9,192.6 335.3,193.2 335.7,191.9 336.1,193.1 336.5,191.5 336.9,193.9 337.3,192.1 337.7,192.0 338.1,192.6 338.5,192.5 338.9,192.3 339.3,191.2 339.7,193.0 340.1,192.9 340.5,192.1 340.9,191.6 341.3,192.6 341.7,193.2 342.1,191.2 342.5,191.6 342.9,192.5 343.3,191.8 343.7,192.2 344.1,192.3 344.5,193.0 344.9,193.0 345.3,193.1 345.7,193.1 346.1,192.0 346.5,190.7 346.9,192.7 347.3,192.8 347.7,192.8 348.1,192.0 348.5,193.8 348.9,191.2 349.3,193.0 349.7,192.9 350.1,193.1 350.5,193.5 350.9,192.8 351.3,192.7 351.7,192.3 352.1,193.0 352.5,192.8 352.9,193.1 353.3,191.7 353.7,191.4 354.0,192.5 354.0,192.9"/><polyline fill="none" stroke="#ff00ff" stroke-width="2.3" stroke-linejoin="miter" stroke-miterlimit="3" points="27.0,91.7 27.0,92.5 27.3,93.7 27.7,95.0 28.1,95.4 28.5,96.7 28.9,95.4 29.3,96.6 29.7,98.1 30.1,96.2 30.5,100.2 30.9,96.7 31.3,97.7 31.7,95.1 32.1,98.0 32.5,97.5 32.9,97.5 33.3,98.9 33.7,96.9 34.1,98.7 34.5,95.3 34.9,97.4 35.3,99.9 35.7,97.9 36.1,98.3 36.5,95.9 36.9,95.1 37.3,98.8 37.7,97.9 38.1,97.3 38.5,95.7 38.9,97.1 39.3,94.4 39.7,95.8 40.1,95.5 40.5,93.2 40.9,96.6 41.3,94.8 41.7,95.8 42.1,92.5 42.5,93.1 42.9,94.3 43.3,95.7 43.7,96.7 44.1,95.6 44.5,94.8 44.9,95.8 45.3,94.7 45.7,95.2 46.1,95.6 46.5,93.9 46.9,95.5 47.3,92.8 47.7,93.7 48.1,95.8 48.5,93.8 48.9,95.3 49.3,94.6 49.7,93.4 50.1,95.3 50.5,93.2 50.9,91.0 51.3,90.5 51.7,91.0 52.1,88.2 52.5,91.8 52.9,89.8 53.3,87.1 53.7,87.9 54.1,91.2 54.5,89.3 54.9,91.9 55.3,88.5 55.7,89.0 56.1,90.9 56.5,91.0 56.9,86.3 57.3,88.7 57.7,85.7 58.1,86.3 58.5,84.3 58.9,87.5 59.3,84.9 59.7,85.0 60.1,88.7 60.5,87.0 60.9,85.2 61.3,82.6 61.7,85.4 62.1,81.3 62.5,83.0 62.9,85.0 63.3,84.9 63.7,83.6 64.1,84.2 64.5,82.9 64.9,81.1 65.3,81.9 65.7,84.0 66.1,81.2 66.5,81.4 66.9,81.5 67.3,78.4 67.7,78.7 68.1,77.6 68.5,80.2 68.9,78.9 69.3,77.4 69.7,77.2 70.1,80.0 70.5,80.1 70.9,79.4 71.3,78.8 71.7,79.5 72.1,78.8 72.5,79.3 72.9,78.2 73.3,77.3 73.7,77.7 74.1,79.1 74.5,81.2 74.9,77.5 75.3,77.1 75.7,79.7 76.1,79.7 76.5,77.5 76.9,77.7 77.3,77.7 77.7,79.0 78.1,83.0 78.5,77.5 78.9,79.0 79.3,77.8 79.7,78.7 80.1,79.1 80.5,78.9 80.9,76.8 81.3,76.6 81.7,79.1 82.1,77.8 82.5,77.3 82.9,77.5 83.3,75.1 83.7,77.6 84.1,74.3 84.5,73.5 84.9,73.2 85.3,74.1 85.7,77.7 86.1,73.4 86.5,73.3 86.9,74.8 87.3,71.7 87.7,70.0 88.1,71.0 88.5,71.2 88.9,69.2 89.3,71.0 89.7,71.5 90.1,74.3 90.5,72.5 90.9,71.7 91.3,71.0 91.7,70.9 92.1,69.6 92.5,72.4 92.9,69.6 93.3,73.0 93.7,75.9 94.1,73.2 94.5,74.7 94.9,73.1 95.3,72.0 95.7,75.4 96.1,75.0 96.5,76.4 96.9,76.2 97.3,77.3 97.7,76.0 98.1,77.9 98.5,79.0 98.9,77.1 99.3,77.8 99.7,80.2 100.1,79.6 100.5,78.7 100.9,76.9 101.3,78.9 101.7,81.6 102.1,78.9 102.5,79.3 102.9,78.3 103.3,79.4 103.7,79.4 104.1,79.4 104.5,77.6 104.9,76.3 105.3,80.3 105.7,76.7 106.1,74.4 106.5,74.4 106.9,74.1 107.3,73.5 107.7,70.7 108.1,68.0 108.5,67.4 108.9,62.3 109.3,60.2 109.7,60.3 110.1,56.2 110.5,53.6 110.9,50.8 111.3,48.2 111.7,48.4 112.1,46.3 112.5,47.0 112.9,41.7 113.3,41.1 113.7,38.8 114.1,36.4 114.5,38.9 114.9,37.1 115.3,34.2 115.7,31.2 116.1,33.3 116.5,33.9 116.9,33.3 117.3,33.1 117.7,38.9 118.1,36.1 118.5,41.2 118.9,40.6 119.3,42.7 119.7,46.3 120.1,45.0 120.5,47.7 120.9,49.7 121.3,52.9 121.7,54.2 122.1,54.4 122.5,54.0 122.9,58.6 123.3,57.8 123.7,60.0 124.1,58.5 124.5,61.9 124.9,64.0 125.3,64.0 125.7,66.3 126.1,68.3 126.5,69.7 126.9,68.0 127.3,67.9 127.7,67.8 128.1,71.7 128.5,71.2 128.9,75.2 129.3,73.1 129.7,78.4 130.1,78.4 130.5,77.6 130.9,81.4 131.3,83.1 131.7,84.4 132.1,85.0 132.5,87.1 132.9,88.2 133.3,88.3 133.7,90.1 134.1,89.5 134.5,93.3 134.9,91.9 135.3,94.4 135.7,94.3 136.1,98.1 136.5,98.3 136.9,97.9 137.3,100.6 137.7,101.1 138.1,103.4 138.5,103.7 138.9,104.7 139.3,105.5 139.7,104.8 140.1,108.5 140.5,109.9 140.9,108.8 141.3,111.8 141.7,113.7 142.1,114.4 142.5,116.0 142.9,116.6 143.3,116.1 143.7,120.4 144.1,118.9 144.5,119.2 144.9,122.8 145.3,121.2 145.7,124.2 146.1,123.2 146.5,126.8 146.9,128.0 147.3,127.0 147.7,129.4 148.1,130.7 148.5,130.9 148.9,132.7 149.3,133.0 149.7,133.4 150.1,134.0 150.5,136.6 150.9,137.9 151.3,139.1 151.7,139.5 152.1,140.5 152.5,140.0 152.9,143.3 153.3,140.8 153.7,143.4 154.1,142.9 154.5,143.4 154.9,146.9 155.3,145.6 155.7,144.1 156.1,146.6 156.5,146.2 156.9,149.7 157.3,147.1 157.7,148.9 158.1,148.9 158.5,149.6 158.9,151.9 159.3,152.9 159.7,153.5 160.1,152.0 160.5,151.5 160.9,153.1 161.3,152.0 161.7,154.6 162.1,151.0 162.5,153.4 162.9,151.3 163.3,151.7 163.7,151.0 164.1,151.4 164.5,153.7 164.9,152.2 165.3,151.7 165.7,151.5 166.1,151.8 166.5,152.2 166.9,153.6 167.3,152.3 167.7,151.9 168.1,151.5 168.5,152.2 168.9,149.8 169.3,151.0 169.7,148.9 170.1,148.6 170.5,150.4 170.9,149.4 171.3,148.9 171.7,147.7 172.1,149.4 172.5,151.5 172.9,149.5 173.3,149.5 173.7,148.7 174.1,150.3 174.5,148.3 174.9,152.5 175.3,149.1 175.7,148.9 176.1,150.3 176.5,147.4 176.9,148.0 177.3,148.0 177.7,148.7 178.1,151.5 178.5,148.5 178.9,153.1 179.3,151.8 179.7,153.1 180.1,152.0 180.5,150.5 180.9,151.5 181.3,155.3 181.7,153.9 182.1,155.4 182.5,155.9 182.9,158.0 183.3,158.4 183.7,157.9 184.1,158.4 184.5,160.2 184.9,158.4 185.3,159.7 185.7,159.6 186.1,160.8 186.5,160.7 186.9,164.2 187.3,163.3 187.7,166.3 188.1,164.1 188.5,165.3 188.9,164.7 189.3,166.6 189.7,166.8 190.1,166.0 190.5,167.1 190.9,166.0 191.3,166.5 191.7,166.1 192.1,168.6 192.5,166.5 192.9,166.4 193.3,169.0 193.7,167.7 194.1,166.3 194.5,166.6 194.9,167.3 195.3,166.7 195.7,168.1 196.1,166.7 196.5,166.7 196.9,169.2 197.3,170.3 197.7,169.9 198.1,167.7 198.5,168.8 198.9,167.7 199.3,170.0 199.7,168.0 200.1,168.0 200.5,169.6 200.9,168.5 201.3,166.8 201.7,165.1 202.1,165.5 202.5,163.8 202.9,167.2 203.3,164.4 203.7,165.1 204.1,164.0 204.5,162.3 204.9,163.1 205.3,162.7 205.7,161.7 206.1,161.2 206.5,161.1 206.9,158.9 207.3,159.3 207.7,158.3 208.1,157.3 208.5,157.7 208.9,154.2 209.3,154.5 209.7,155.2 210.1,156.7 210.5,154.8 210.9,152.4 211.3,154.3 211.7,151.8 212.1,149.9 212.5,149.7 212.9,151.0 213.3,149.5 213.7,146.9 214.1,145.9 214.5,147.5 214.9,145.1 215.3,145.9 215.7,147.5 216.1,145.4 216.5,145.9 216.9,147.3 217.3,146.9 217.7,149.0 218.1,147.4 218.5,148.2 218.9,148.3 219.3,146.8 219.7,148.5 220.1,149.1 220.5,147.3 220.9,146.8 221.3,147.2 221.7,149.2 222.1,147.5 222.5,146.3 222.9,144.1 223.3,144.1 223.7,141.2 224.1,142.5 224.5,139.1 224.9,137.7 225.3,140.1 225.7,138.9 226.1,138.8 226.5,136.8 226.9,138.5 227.3,137.5 227.7,136.8 228.1,137.2 228.5,136.8 228.9,134.8 229.3,136.2 229.7,134.4 230.1,133.0 230.5,133.3 230.9,132.3 231.3,133.3 231.7,131.2 232.1,130.0 232.5,129.5 232.9,129.8 233.3,126.0 233.7,125.3 234.1,125.5 234.5,125.1 234.9,124.0 235.3,121.5 235.7,118.5 236.1,116.5 236.5,117.6 236.9,116.1 237.3,115.8 237.7,115.5 238.1,112.0 238.5,113.7 238.9,110.3 239.3,109.4 239.7,108.6 240.1,104.8 240.5,108.8 240.9,104.1 241.3,104.6 241.7,101.0 242.1,98.4 242.5,97.7 242.9,96.1 243.3,93.7 243.7,91.4 244.1,94.0 244.5,90.7 244.9,90.3 245.3,90.1 245.7,86.4 246.1,85.5 246.5,85.1 246.9,82.6 247.3,80.6 247.7,77.3 248.1,75.2 248.5,75.1 248.9,71.7 249.3,71.0 249.7,68.8 250.1,66.5 250.5,65.0 250.9,63.0 251.3,63.1 251.7,58.2 252.1,59.2 252.5,60.0 252.9,61.5 253.3,57.8 253.7,59.9 254.1,61.9 254.5,63.8 254.9,62.5 255.3,61.3 255.7,64.9 256.1,66.3 256.5,67.1 256.9,68.5 257.3,71.6 257.7,74.4 258.1,79.9 258.5,82.8 258.9,84.0 259.3,84.9 259.7,87.0 260.1,90.1 260.5,90.4 260.9,94.4 261.3,95.0 261.7,96.4 262.1,99.4 262.5,100.3 262.9,104.5 263.3,105.6 263.7,105.1 264.1,107.4 264.5,107.5 264.9,112.4 265.3,113.8 265.7,115.4 266.1,115.6 266.5,120.6 266.9,122.1 267.3,122.2 267.7,123.8 268.1,125.8 268.5,129.0 268.9,130.3 269.3,131.7 269.7,133.3 270.1,134.1 270.5,136.7 270.9,137.4 271.3,141.9 271.7,142.6 272.1,144.4 272.5,145.6 272.9,146.6 273.3,147.0 273.7,149.6 274.1,151.3 274.5,152.8 274.9,155.4 275.3,156.7 275.7,156.2 276.1,157.5 276.5,160.4 276.9,158.4 277.3,161.2 277.7,163.0 278.1,163.3 278.5,163.5 278.9,165.3 279.3,164.9 279.7,165.4 280.1,167.0 280.5,167.3 280.9,168.5 281.3,169.6 281.7,170.3 282.1,167.4 282.5,170.3 282.9,171.0 283.3,171.7 283.7,171.1 284.1,171.5 284.5,172.5 284.9,171.9 285.3,171.5 285.7,173.9 286.1,174.2 286.5,172.8 286.9,175.0 287.3,173.5 287.7,174.7 288.1,173.5 288.5,174.7 288.9,174.2 289.3,174.5 289.7,175.3 290.1,175.6 290.5,174.4 290.9,176.5 291.3,174.7 291.7,174.2 292.1,175.3 292.5,177.1 292.9,175.3 293.3,174.7 293.7,175.3 294.1,176.1 294.5,176.4 294.9,176.4 295.3,176.9 295.7,177.7 296.1,176.2 296.5,176.6 296.9,176.3 297.3,176.6 297.7,177.3 298.1,176.7 298.5,175.6 298.9,177.2 299.3,177.7 299.7,176.7 300.1,178.1 300.5,177.5 300.9,175.5 301.3,176.3 301.7,175.8 302.1,176.3 302.5,176.1 302.9,176.9 303.3,177.3 303.7,175.3 304.1,177.5 304.5,176.8 304.9,177.7 305.3,176.7 305.7,175.2 306.1,176.9 306.5,177.4 306.9,177.4 307.3,177.1 307.7,176.3 308.1,176.5 308.5,176.6 308.9,176.4 309.3,177.3 309.7,177.6 310.1,178.0 310.5,177.7 310.9,177.3 311.3,178.0 311.7,177.5 312.1,176.7 312.5,178.3 312.9,177.6 313.3,177.6 313.7,178.6 314.1,178.1 314.5,178.3 314.9,179.3 315.3,178.7 315.7,178.5 316.1,177.9 316.5,176.2 316.9,175.9 317.3,177.1 317.7,179.8 318.1,177.8 318.5,177.6 318.9,178.4 319.3,178.9 319.7,178.3 320.1,178.4 320.5,178.3 320.9,177.7 321.3,177.5 321.7,176.2 322.1,177.9 322.5,177.9 322.9,178.2 323.3,178.8 323.7,176.9 324.1,177.0 324.5,178.6 324.9,176.7 325.3,178.1 325.7,178.0 326.1,178.4 326.5,177.3 326.9,178.5 327.3,177.0 327.7,178.6 328.1,178.0 328.5,177.7 328.9,178.1 329.3,179.0 329.7,177.2 330.1,177.9 330.5,177.0 330.9,178.8 331.3,178.6 331.7,177.3 332.1,177.8 332.5,177.1 332.9,178.0 333.3,178.8 333.7,177.6 334.1,178.0 334.5,176.7 334.9,179.4 335.3,177.1 335.7,178.1 336.1,177.7 336.5,178.9 336.9,177.9 337.3,177.7 337.7,177.0 338.1,179.0 338.5,176.7 338.9,179.3 339.3,179.1 339.7,179.6 340.1,177.3 340.5,177.5 340.9,178.3 341.3,179.0 341.7,177.3 342.1,179.1 342.5,177.2 342.9,178.7 343.3,178.2 343.7,178.3 344.1,178.1 344.5,178.7 344.9,176.8 345.3,179.0 345.7,177.7 346.1,178.0 346.5,177.5 346.9,178.7 347.3,178.5 347.7,177.9 348.1,177.4 348.5,179.7 348.9,178.0 349.3,178.7 349.7,178.0 350.1,179.1 350.5,179.3 350.9,179.1 351.3,179.6 351.7,179.6 352.1,176.6 352.5,177.8 352.9,177.3 353.3,178.8 353.7,178.5 354.0,177.3 354.0,179.6"/>
<rect x="26" y="2" width="329" height="232" fill="none" stroke="#000" stroke-width="2"/>
<rect x="25.00" y="234" width="2" height="5" fill="#000"/><rect x="50.30" y="234" width="2" height="3" fill="#000"/><rect x="75.60" y="234" width="2" height="5" fill="#000"/><rect x="100.90" y="234" width="2" height="3" fill="#000"/><rect x="126.20" y="234" width="2" height="5" fill="#000"/><rect x="151.50" y="234" width="2" height="3" fill="#000"/><rect x="176.80" y="234" width="2" height="5" fill="#000"/><rect x="202.10" y="234" width="2" height="3" fill="#000"/><rect x="227.40" y="234" width="2" height="5" fill="#000"/><rect x="252.70" y="234" width="2" height="3" fill="#000"/><rect x="278.00" y="234" width="2" height="5" fill="#000"/><rect x="303.30" y="234" width="2" height="3" fill="#000"/><rect x="328.60" y="234" width="2" height="5" fill="#000"/><rect x="353.90" y="234" width="2" height="3" fill="#000"/>
<text x="26.0" y="250.5" text-anchor="middle" class="tk">200</text><text x="76.6" y="250.5" text-anchor="middle" class="tk">400</text><text x="127.2" y="250.5" text-anchor="middle" class="tk">600</text><text x="177.8" y="250.5" text-anchor="middle" class="tk">800</text><text x="228.4" y="250.5" text-anchor="middle" class="tk">1000</text><text x="279.0" y="250.5" text-anchor="middle" class="tk">1200</text><text x="329.6" y="250.5" text-anchor="middle" class="tk">1400</text>
<line x1="87.7" y1="29.7" x2="87.7" y2="57.0" stroke="#555" stroke-width="1"/><polygon points="85.5,56.0 89.9,56.0 87.7,61.5" fill="#000"/><line x1="116.3" y1="15.8" x2="116.3" y2="22.5" stroke="#555" stroke-width="1"/><polygon points="114.1,21.5 118.5,21.5 116.3,28" fill="#000"/><line x1="173" y1="106.6" x2="173" y2="134.2" stroke="#555" stroke-width="1"/><polygon points="170.8,133.2 175.2,133.2 173,139.5" fill="#000"/><line x1="214.3" y1="84.5" x2="214.3" y2="137.2" stroke="#555" stroke-width="1"/><polygon points="212.10000000000002,136.2 216.5,136.2 214.3,142.5" fill="#000"/><line x1="252.7" y1="18.3" x2="252.7" y2="49.4" stroke="#555" stroke-width="1"/><polygon points="250.5,48.4 254.89999999999998,48.4 252.7,53.9" fill="#000"/>
<g transform="translate(88.7,0) scale(1.23,1) translate(-88.7,0)"><text x="88.7" y="22.9" text-anchor="middle" class="an">TO</text></g>
<g transform="translate(117.6,0) scale(1.23,1) translate(-117.6,0)"><text x="117.6" y="12.2" text-anchor="middle" class="an">LO</text></g>
<g transform="translate(175.4,0) scale(1.23,1) translate(-175.4,0)"><text x="175.4" y="102.4" text-anchor="middle" class="an">2TO</text></g>
<g transform="translate(215.3,0) scale(1.23,1) translate(-215.3,0)"><text x="215.3" y="79.9" text-anchor="middle" class="an">TO+LO</text></g>
<g transform="translate(255.8,0) scale(1.23,1) translate(-255.8,0)"><text x="255.8" y="14.3" text-anchor="middle" class="an">2LO</text></g>
<g transform="translate(332.2,0) scale(1.17,1) translate(-332.2,0)"><text x="332.2" y="171.8" text-anchor="middle" class="lg">5-sccm</text></g>
<g transform="translate(332.2,0) scale(1.17,1) translate(-332.2,0)"><text x="332.2" y="189.2" text-anchor="middle" class="lg">7-sccm</text></g>
<g transform="translate(331.8,0) scale(1.17,1) translate(-331.8,0)"><text x="331.8" y="202.4" text-anchor="middle" class="lg">9-sccm</text></g>
<g transform="translate(333.4,0) scale(1.17,1) translate(-333.4,0)"><text x="333.4" y="217.1" text-anchor="middle" class="lg">10-sccm</text></g>
<text transform="translate(11.8,125.5) rotate(-90)" text-anchor="middle" class="ax" style="font-size:12.6px">Intensity (arb.units)</text>
<g transform="translate(127.8,0) scale(1.18,1) translate(-127.8,0)"><text x="127.8" y="276.2" class="ax">Raman shift (cm<tspan dy="-5.6" font-size="12.5px">-1</tspan><tspan dy="5.6" dx="-0.4">)</tspan></text></g>
</svg>
</body></html>
